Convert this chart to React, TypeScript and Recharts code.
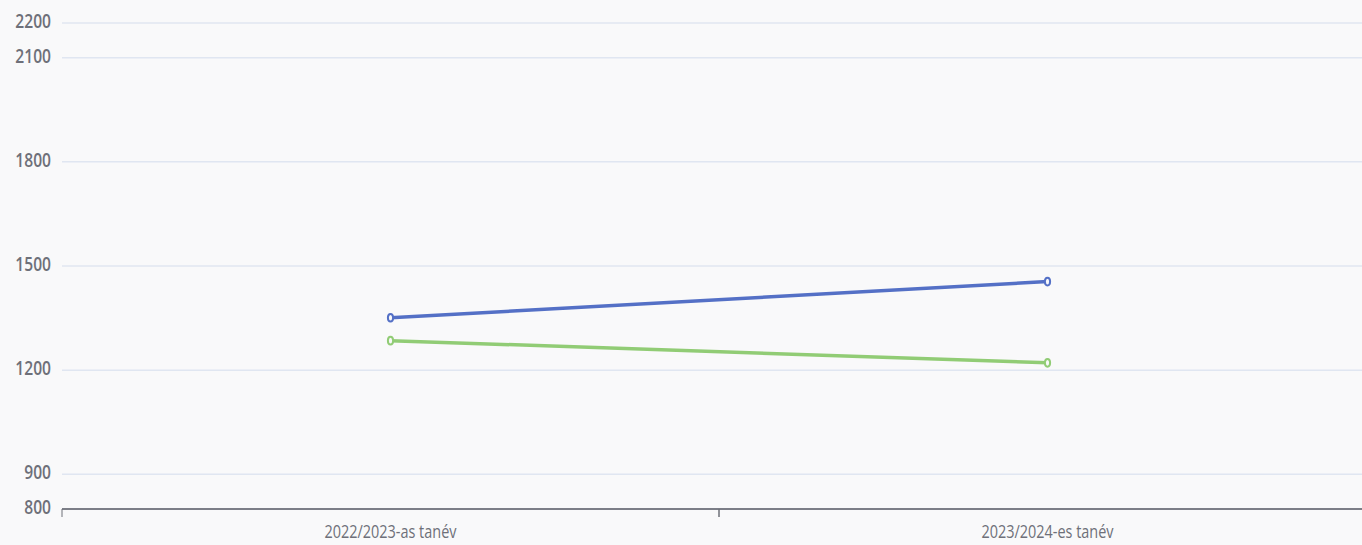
import React from "react";
import { LineChart, Line, XAxis, YAxis, CartesianGrid } from "recharts";

const years = ["2022/2023-as tanév", "2023/2024-es tanév"];
const seriesA = [1351, 1455];
const seriesB = [1285, 1221];
const yTicks = [800, 900, 1200, 1500, 1800, 2100, 2200];

const data = years.map((name, i) => ({ name, a: seriesA[i], b: seriesB[i] }));

const TEXT = "#6e7079";
const FONT = "'Open Sans', 'Noto Sans', sans-serif";

const XTick = (props: any) => {
  const { x, y, payload } = props;
  const half = payload.offset || 0;
  return (
    <g>
      <line x1={x - half} y1={y - 8} x2={x - half} y2={y} stroke={TEXT} strokeWidth={1} />
      <line x1={x + half} y1={y - 8} x2={x + half} y2={y} stroke={TEXT} strokeWidth={1} />
      <text
        transform={`translate(${x},${y + 21}) scale(0.76,1)`}
        textAnchor="middle"
        fontSize={19}
        fontFamily={FONT}
        fill={TEXT}
      >
        {payload.value}
      </text>
    </g>
  );
};

const YTick = (props: any) => {
  const { x, y, payload } = props;
  return (
    <text
      transform={`translate(${x},${y + 5}) scale(0.78,1)`}
      textAnchor="end"
      fontSize={20}
      fontWeight={600}
      fontFamily={FONT}
      fill={TEXT}
    >
      {payload.value}
    </text>
  );
};

const makeDot = (color: string) => (props: any) => {
  const { cx, cy, index } = props;
  return (
    <ellipse key={index} cx={cx} cy={cy} rx={2.6} ry={3.8} fill="#f9f9fa" stroke={color} strokeWidth={2} />
  );
};

export default function App() {
  return (
    <div
      style={{
        position: "absolute",
        left: 0,
        top: 0,
        width: 1362,
        height: 545,
        overflow: "hidden",
        background: "#f9f9fa",
      }}
    >
      <LineChart
        width={1376}
        height={545}
        data={data}
        margin={{ top: 23, right: 0, left: 0, bottom: 0 }}
      >
        <CartesianGrid vertical={false} stroke="#e0e6f1" strokeWidth={1.5} />
        <XAxis
          dataKey="name"
          scale="band"
          axisLine={{ stroke: "#7c7e87", strokeWidth: 2 }}
          tickLine={false}
          tick={<XTick />}
          interval={0}
          height={36}
        />
        <YAxis
          type="number"
          domain={[800, 2200]}
          ticks={yTicks}
          axisLine={false}
          tickLine={false}
          tick={<YTick />}
          width={62}
          tickMargin={5}
          interval={0}
        />
        <Line
          type="linear"
          dataKey="a"
          stroke="#5470c6"
          strokeWidth={3.5}
          dot={makeDot("#5470c6")}
          activeDot={false}
          isAnimationActive={false}
        />
        <Line
          type="linear"
          dataKey="b"
          stroke="#91cc75"
          strokeWidth={3.5}
          dot={makeDot("#91cc75")}
          activeDot={false}
          isAnimationActive={false}
        />
      </LineChart>
    </div>
  );
}
